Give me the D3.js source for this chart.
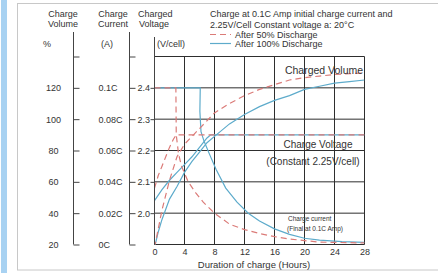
<!DOCTYPE html>
<html>
<head>
<meta charset="utf-8">
<script src="https://cdn.jsdelivr.net/npm/d3@7"></script>
<style>
  body { margin: 0; background: #fff; }
  text { font-family: "Liberation Sans", Arial, sans-serif; fill: #333; }
</style>
</head>
<body>
<div class="charge-chart"></div>
<script>
// axis ticks
var hourTicks = [0, 4, 8, 12, 16, 20, 24, 28]
var volumeTicks = [20, 40, 60, 80, 100, 120, 140]
var currentTicks = [0, 0.02, 0.04, 0.06, 0.08, 0.1, 0.12]
var currentLabels = ["0C", "0.02C", "0.04C", "0.06C", "0.08C", "0.1C", ""]
var voltageTicks = [1.9, 2.0, 2.1, 2.2, 2.3, 2.4, 2.5]

// [hours, value]
// after 50% discharge (red dashed)
var volume50 = [[0,18],[0.5,30],[1,42],[2,61],[3,76],[4,84],[5,89],[6,94],[8,104],[10,110],[12,115],[14,119],[16,122],[18,125],[20,126.5],[22,127.5],[24,128.5],[26,129],[28,129.5]]
var voltage50 = [[0,2.08],[0.5,2.12],[1,2.15],[1.5,2.18],[2,2.21],[2.5,2.235],[2.9,2.25],[28,2.25]]
var current50 = [[0,0.1],[2.85,0.1],[2.9,0.07],[3.2,0.058],[3.6,0.05],[4.5,0.04],[5.5,0.033],[6.5,0.027],[8,0.02],[10,0.013],[12,0.0095],[14,0.007],[16,0.005],[18,0.0035],[20,0.0025],[22,0.0015],[28,0.001]]
// after 100% discharge (blue)
var volume100 = [[0,18],[0.5,28],[1,36],[2,49],[3,57],[4,66],[5,73],[6,79],[7,85],[8,89],[10,97],[12,103],[14,108],[16,112],[18,115],[20,119],[22,121],[24,123],[26,124],[28,125]]
var voltage100 = [[0,2.04],[1,2.075],[2,2.105],[3,2.13],[4,2.155],[5,2.18],[6,2.21],[7,2.24],[7.5,2.25],[28,2.25]]
var current100 = [[0,0.1],[6.1,0.1],[6.05,0.085],[6.2,0.072],[6.6,0.066],[7.3,0.058],[8.2,0.048],[9.5,0.036],[11,0.027],[12.5,0.02],[14,0.015],[16,0.01],[18,0.0065],[20,0.004],[22,0.0028],[25,0.0018],[28,0.0013]]

var width = 438, height = 273
var red = "#db7b78", blue = "#5dabcb", gridColor = "#2e2e2e"

var svg = d3.select(".charge-chart").append("svg")
  .attr("width", width)
  .attr("height", height)

// page frame
svg.append("rect").attr("x", 1).attr("y", 0).attr("width", 6).attr("height", height).attr("fill", "#a8d2f2")
svg.append("rect").attr("x", 17.5).attr("y", 3.5).attr("width", 440).attr("height", 266.5)
  .attr("fill", "none").attr("stroke", "#c8c8c8")

var x = d3.scaleLinear().domain([0, 28]).range([154.5, 364.5])
var yV = d3.scaleLinear().domain([1.9, 2.5]).range([244.5, 56.5])
var yC = d3.scaleLinear().domain([0, 0.12]).range([244.5, 56.5])
var yP = d3.scaleLinear().domain([20, 140]).range([244.5, 56.5])

// grid
var grid = svg.append("g").attr("stroke", gridColor).attr("stroke-width", 1)
grid.selectAll(".v").data(hourTicks).enter().append("line")
  .attr("x1", x).attr("x2", x)
  .attr("y1", yV(2.5)).attr("y2", yV(1.9))
grid.selectAll(".h").data(voltageTicks).enter().append("line")
  .attr("x1", x(0)).attr("x2", x(28))
  .attr("y1", yV).attr("y2", yV)

svg.append("clipPath").attr("id", "plot-clip").append("rect")
  .attr("x", x(0)).attr("y", yV(2.5)).attr("width", x(28) - x(0)).attr("height", yV(1.9) - yV(2.5))

var curves = svg.append("g").attr("clip-path", "url(#plot-clip)")
  .attr("fill", "none").attr("stroke-width", 1.2)

function drawCurve(data, y, color, dashed) {
  var line = d3.line().x(function (d) { return x(d[0]) }).y(function (d) { return y(d[1]) })
  curves.append("path").datum(data)
    .attr("d", line)
    .attr("stroke", color)
    .attr("stroke-dasharray", dashed ? "6,4" : null)
}

drawCurve(voltage100, yV, blue, false)
drawCurve(volume100, yP, blue, false)
drawCurve(current100, yC, blue, false)
drawCurve(voltage50, yV, red, true)
drawCurve(volume50, yP, red, true)
drawCurve(current50, yC, red, true)

// left axes
var volAxis = svg.append("g").attr("transform", "translate(73.5,0)")
  .call(d3.axisRight(yP).tickValues(volumeTicks).tickSize(6).tickSizeOuter(0)
    .tickFormat(function (d) { return d === 140 ? "" : d }))
volAxis.select(".domain").remove()
volAxis.selectAll("line").attr("stroke", "#444")
volAxis.selectAll("text").attr("x", -20).attr("text-anchor", "middle")
  .style("font-size", "9px").style("font-family", null).attr("fill", "#444")
volAxis.append("line").attr("y1", 32).attr("y2", yP(20)).attr("stroke", "#444")

var curAxis = svg.append("g").attr("transform", "translate(129.5,0)")
  .call(d3.axisRight(yC).tickValues(currentTicks).tickSize(6).tickSizeOuter(0)
    .tickFormat(function (d, i) { return currentLabels[i] }))
curAxis.select(".domain").remove()
curAxis.selectAll("line").attr("stroke", "#444")
curAxis.selectAll("text").attr("x", -31).attr("text-anchor", "start")
  .style("font-size", "9px").style("font-family", null).attr("fill", "#444")
curAxis.append("line").attr("y1", 32).attr("y2", yC(0)).attr("stroke", "#444")

var voltAxis = svg.append("g").attr("transform", "translate(154.5,0)")
  .call(d3.axisLeft(yV).tickValues([2.0, 2.1, 2.2, 2.3, 2.4]).tickSize(4).tickSizeOuter(0)
    .tickFormat(d3.format(".1f")))
voltAxis.select(".domain").remove()
voltAxis.selectAll("line").attr("stroke", "#444")
voltAxis.selectAll("text").attr("x", -4.5)
  .style("font-size", "9px").style("font-family", null).attr("fill", "#444")
voltAxis.append("line").attr("y1", 37).attr("y2", yV(1.9)).attr("stroke", "#444")

// bottom axis
var hourAxis = svg.append("g").attr("transform", "translate(0," + yV(1.9) + ")")
  .call(d3.axisBottom(x).tickValues(hourTicks).tickSize(0).tickPadding(4))
hourAxis.select(".domain").remove()
hourAxis.selectAll("text").style("font-size", "9px").style("font-family", null).attr("fill", "#333")

function label(text, px, py, size, anchor) {
  svg.append("text").attr("x", px).attr("y", py)
    .attr("text-anchor", anchor || "start")
    .style("font-size", size + "px")
    .text(text)
}

// headers
label("Charge", 63, 17, 9, "middle")
label("Volume", 63, 27, 9, "middle")
label("Charge", 113, 17, 9, "middle")
label("Current", 113, 27, 9, "middle")
label("Charged", 138, 17, 9)
label("Voltage", 139, 27, 9)
label("%", 47, 47, 9, "middle")
label("(A)", 107, 47, 9, "middle")
label("(V/cell)", 157, 47, 9)

label("Charge at 0.1C Amp initial charge current and", 210, 17, 9)
label("2.25V/Cell Constant voltage a: 20°C", 210, 28, 9)

svg.append("line").attr("x1", 210).attr("x2", 231).attr("y1", 34.5).attr("y2", 34.5)
  .attr("stroke", red).attr("stroke-width", 1.2).attr("stroke-dasharray", "6,4")
label("After 50% Discharge", 235, 38, 9)
svg.append("line").attr("x1", 210).attr("x2", 231).attr("y1", 43.5).attr("y2", 43.5)
  .attr("stroke", blue).attr("stroke-width", 1.2)
label("After 100% Discharge", 235, 47, 9)

// in-plot notes
label("Charged Volume", 324, 74, 10.5, "middle")
label("Charge Voltage", 318, 148, 10, "middle")
label("(Constant 2.25V/cell)", 313, 165, 10, "middle")
label("Charge current", 288, 221, 6.5)
label("(Final at 0.1C Amp)", 287, 231, 6.5)

label("Duration of charge (Hours)", 254, 268, 9.5, "middle")
</script>
</body>
</html>
